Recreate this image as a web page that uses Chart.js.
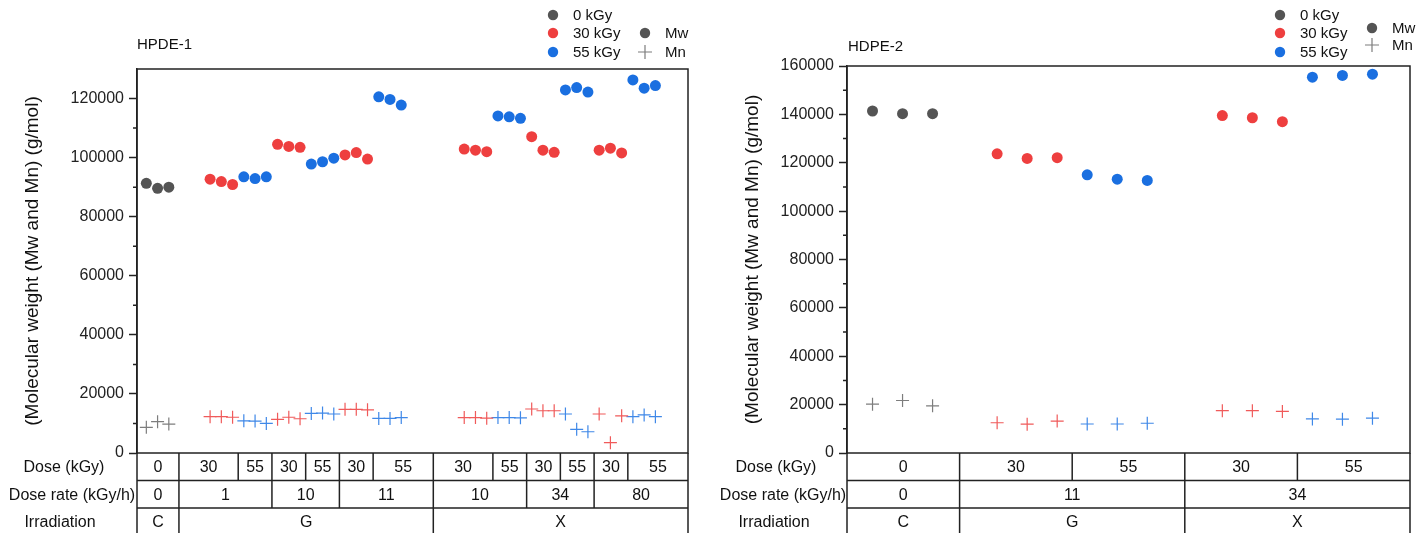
<!DOCTYPE html>
<html>
<head>
<meta charset="utf-8">
<script src="https://cdn.jsdelivr.net/npm/chart.js@4.4.1/dist/chart.umd.min.js"></script>
<style>
  html, body { margin: 0; padding: 0; background: #fff; }
  #wrap { position: relative; width: 1426px; height: 533px; overflow: hidden; }
  .panel { position: absolute; top: 0; width: 713px; height: 533px; }
</style>
</head>
<body>
<div id="wrap">
  <div class="panel" style="left:0"><canvas id="chart1" width="713" height="533"></canvas></div>
  <div class="panel" style="left:713px"><canvas id="chart2" width="713" height="533"></canvas></div>
</div>
<script>
// ---- HPDE-1 data (x = sample position along the axis) ----
const hdpe1Pos0 = [0.83, 1.83, 2.83];
const hdpe1Mw0 = [91300, 89600, 90000];
const hdpe1Mn0 = [8700, 10600, 9800];

const hdpe1Pos30 = [6.5, 7.5, 8.5, 12.5, 13.5, 14.5, 18.5, 19.5, 20.5, 29.1, 30.1, 31.1, 35.1, 36.1, 37.1, 41.1, 42.1, 43.1];
const hdpe1Mw30 = [92700, 91900, 90900, 104500, 103800, 103500, 100900, 101700, 99500, 102900, 102500, 102000, 107100, 102500, 101800, 102500, 103200, 101600];
const hdpe1Mn30 = [12300, 12300, 12100, 11400, 12100, 11600, 14800, 14800, 14600, 12000, 12000, 11800, 14900, 14300, 14300, 13200, 3500, 12600];

const hdpe1Pos55 = [9.5, 10.5, 11.5, 15.5, 16.5, 17.5, 21.5, 22.5, 23.5, 32.1, 33.1, 34.1, 38.1, 39.1, 40.1, 44.1, 45.1, 46.1];
const hdpe1Mw55 = [93500, 92900, 93500, 97800, 98600, 99800, 120600, 119700, 117800, 114100, 113800, 113300, 122900, 123700, 122200, 126300, 123500, 124400];
const hdpe1Mn55 = [10900, 10800, 10000, 13400, 13500, 13200, 11700, 11700, 12000, 12000, 12000, 11900, 13200, 8000, 7200, 12300, 12900, 12300];

const hdpe1Ticks = [0, 20000, 40000, 60000, 80000, 100000, 120000];

// table rows under HPDE-1
const hdpe1DoseCells = ['0', '30', '55', '30', '55', '30', '55', '30', '55', '30', '55', '30', '55'];
const hdpe1DoseEdges = [0, 3.73, 9, 12, 15, 18, 21, 26.35, 31.65, 34.65, 37.65, 40.65, 43.65, 49];
const hdpe1RateCells = ['0', '1', '10', '11', '10', '34', '80'];
const hdpe1RateEdges = [0, 3.73, 12, 18, 26.35, 34.65, 40.65, 49];
const hdpe1IrrCells = ['C', 'G', 'X'];
const hdpe1IrrEdges = [0, 3.73, 26.35, 49];

// ---- HDPE-2 data ----
const hdpe2Pos0 = [0.85, 1.85, 2.85];
const hdpe2Mw0 = [141400, 140300, 140300];
const hdpe2Mn0 = [20200, 21700, 19500];

const hdpe2Pos30 = [5, 6, 7, 12.5, 13.5, 14.5];
const hdpe2Mw30 = [123700, 121800, 122100, 139500, 138600, 137000];
const hdpe2Mn30 = [12500, 11900, 13200, 17500, 17500, 17200];

const hdpe2Pos55 = [8, 9, 10, 15.5, 16.5, 17.5];
const hdpe2Mw55 = [115000, 113200, 112700, 155400, 156100, 156600];
const hdpe2Mn55 = [12000, 12000, 12300, 14100, 14000, 14400];

const hdpe2Ticks = [0, 20000, 40000, 60000, 80000, 100000, 120000, 140000, 160000];

const hdpe2DoseCells = ['0', '30', '55', '30', '55'];
const hdpe2DoseEdges = [0, 3.75, 7.5, 11.25, 15, 18.75];
const hdpe2RateCells = ['0', '11', '34'];
const hdpe2RateEdges = [0, 3.75, 11.25, 18.75];
const hdpe2IrrCells = ['C', 'G', 'X'];
const hdpe2IrrEdges = [0, 3.75, 11.25, 18.75];

const rowLabels = ['Dose (kGy)', 'Dose rate (kGy/h)', 'Irradiation'];
const doseLegend = ['0 kGy', '30 kGy', '55 kGy'];
const typeLegend = ['Mw', 'Mn'];
const yTitle = '(Molecular weight (Mw and Mn) (g/mol)';

const FONT = '"Liberation Sans", Arial, Helvetica, sans-serif';
const MW_COLORS = ['#545454', '#ee3f3f', '#1a6fe0'];
const MN_COLORS = ['#7d7d7d', '#f05a5a', '#3f88e8'];
const LINE = '#222';

Chart.defaults.font.family = FONT;

function toPoints(xs, ys) {
  return xs.map((x, i) => ({ x, y: ys[i] }));
}

function mwSet(label, xs, ys, color) {
  return {
    label,
    data: toPoints(xs, ys),
    pointStyle: 'circle',
    pointRadius: 5.5,
    pointHoverRadius: 5.5,
    backgroundColor: color,
    borderColor: color,
    borderWidth: 0,
  };
}

function mnSet(label, xs, ys, color) {
  return {
    label,
    data: toPoints(xs, ys),
    pointStyle: 'cross',
    pointRadius: 6.5,
    pointHoverRadius: 6.5,
    backgroundColor: color,
    borderColor: color,
    borderWidth: 1.2,
  };
}

// Draws box, minor ticks, the table under the plot, titles and legend
const framePlugin = {
  id: 'framePlugin',
  afterDraw(chart, args, opts) {
    const { ctx, chartArea } = chart;
    const { left, right, top, bottom } = chartArea;
    const xs = chart.scales.x;
    const ys = chart.scales.y;
    ctx.save();
    ctx.strokeStyle = LINE;
    ctx.lineWidth = 1.5;

    // frame
    ctx.strokeRect(left, top, right - left, bottom - top);

    // minor ticks
    ctx.beginPath();
    for (let v = opts.minorStep; v < ys.max; v += opts.minorStep * 2) {
      const y = ys.getPixelForValue(v);
      ctx.moveTo(left - 4, y);
      ctx.lineTo(left, y);
    }
    ctx.stroke();

    // table
    const rowH = 27.5;
    ctx.fillStyle = '#111';
    ctx.font = '16px ' + FONT;
    ctx.textAlign = 'center';
    ctx.textBaseline = 'middle';
    ctx.beginPath();
    ctx.moveTo(left, bottom);
    ctx.lineTo(left, chart.height);
    ctx.moveTo(right, bottom);
    ctx.lineTo(right, chart.height);
    opts.rows.forEach((row, r) => {
      const y0 = bottom + r * rowH;
      if (r > 0) {
        ctx.moveTo(left, y0);
        ctx.lineTo(right, y0);
      }
      const yEnd = r === opts.rows.length - 1 ? chart.height : y0 + rowH;
      row.edges.forEach((e, i) => {
        if (i === 0 || i === row.edges.length - 1) return;
        const x = xs.getPixelForValue(e);
        ctx.moveTo(x, y0);
        ctx.lineTo(x, yEnd);
      });
      row.cells.forEach((txt, i) => {
        const xc = (xs.getPixelForValue(row.edges[i]) + xs.getPixelForValue(row.edges[i + 1])) / 2;
        ctx.fillText(txt, xc, y0 + rowH / 2 + 1);
      });
      ctx.fillText(rowLabels[r], opts.rowLabelX[r], y0 + rowH / 2 + 1);
    });
    ctx.stroke();

    // y title
    ctx.save();
    ctx.translate(opts.yTitleX, (top + bottom) / 2);
    ctx.rotate(-Math.PI / 2);
    ctx.font = '19px ' + FONT;
    ctx.fillText(yTitle, 0, 0);
    ctx.restore();

    // chart title
    ctx.font = '15px ' + FONT;
    ctx.textAlign = 'left';
    ctx.fillText(opts.title, opts.titleX, opts.titleY);

    // legend
    const lg = opts.legend;
    doseLegend.forEach((txt, i) => {
      const y = lg.doseY[i];
      ctx.fillStyle = MW_COLORS[i];
      ctx.beginPath();
      ctx.arc(lg.doseX, y, 5.2, 0, Math.PI * 2);
      ctx.fill();
      ctx.fillStyle = '#111';
      ctx.fillText(txt, lg.doseX + 20, y + 1);
    });
    typeLegend.forEach((txt, i) => {
      const y = lg.typeY[i];
      if (i === 0) {
        ctx.fillStyle = MW_COLORS[0];
        ctx.beginPath();
        ctx.arc(lg.typeX, y, 5.2, 0, Math.PI * 2);
        ctx.fill();
      } else {
        ctx.strokeStyle = MN_COLORS[0];
        ctx.lineWidth = 1.2;
        ctx.beginPath();
        ctx.moveTo(lg.typeX - 7, y);
        ctx.lineTo(lg.typeX + 7, y);
        ctx.moveTo(lg.typeX, y - 7);
        ctx.lineTo(lg.typeX, y + 7);
        ctx.stroke();
      }
      ctx.fillStyle = '#111';
      ctx.fillText(txt, lg.typeX + 20, y + 1);
    });
    ctx.restore();
  },
};

function makeChart(id, cfg) {
  return new Chart(document.getElementById(id), {
    type: 'scatter',
    data: {
      datasets: [
        mnSet('Mn 0', cfg.pos[0], cfg.mn[0], MN_COLORS[0]),
        mnSet('Mn 30', cfg.pos[1], cfg.mn[1], MN_COLORS[1]),
        mnSet('Mn 55', cfg.pos[2], cfg.mn[2], MN_COLORS[2]),
        mwSet('Mw 0', cfg.pos[0], cfg.mw[0], MW_COLORS[0]),
        mwSet('Mw 30', cfg.pos[1], cfg.mw[1], MW_COLORS[1]),
        mwSet('Mw 55', cfg.pos[2], cfg.mw[2], MW_COLORS[2]),
      ],
    },
    options: {
      responsive: false,
      animation: false,
      devicePixelRatio: 1,
      layout: {
        autoPadding: false,
        padding: { left: 0, right: cfg.padRight, top: cfg.padTop, bottom: 80 },
      },
      plugins: {
        legend: { display: false },
        tooltip: { enabled: false },
        framePlugin: cfg.frame,
      },
      scales: {
        x: {
          type: 'linear',
          min: 0,
          max: cfg.xMax,
          display: false,
        },
        y: {
          min: 0,
          max: cfg.yMax,
          afterBuildTicks: (scale) => {
            scale.ticks = cfg.yTicks.map((v) => ({ value: v }));
          },
          afterFit: (scale) => {
            scale.width = cfg.axisWidth;
          },
          ticks: {
            color: '#222',
            padding: 5,
            font: { size: 16 },
            callback: (value) => String(value),
          },
          grid: {
            drawOnChartArea: false,
            drawTicks: true,
            tickLength: 8,
            tickColor: LINE,
            tickWidth: 1.5,
          },
          border: { display: true, color: LINE, width: 1.5 },
        },
      },
    },
    plugins: [framePlugin],
  });
}

makeChart('chart1', {
  pos: [hdpe1Pos0, hdpe1Pos30, hdpe1Pos55],
  mw: [hdpe1Mw0, hdpe1Mw30, hdpe1Mw55],
  mn: [hdpe1Mn0, hdpe1Mn30, hdpe1Mn55],
  yTicks: hdpe1Ticks,
  xMax: 49,
  yMax: 130000,
  axisWidth: 137,
  padRight: 25,
  padTop: 69,
  frame: {
    minorStep: 10000,
    rows: [
      { cells: hdpe1DoseCells, edges: hdpe1DoseEdges },
      { cells: hdpe1RateCells, edges: hdpe1RateEdges },
      { cells: hdpe1IrrCells, edges: hdpe1IrrEdges },
    ],
    rowLabelX: [64, 72, 60],
    yTitleX: 33,
    title: 'HPDE-1',
    titleX: 137,
    titleY: 45,
    legend: { doseX: 553, doseY: [15, 33, 52], typeX: 645, typeY: [33, 52] },
  },
});

makeChart('chart2', {
  pos: [hdpe2Pos0, hdpe2Pos30, hdpe2Pos55],
  mw: [hdpe2Mw0, hdpe2Mw30, hdpe2Mw55],
  mn: [hdpe2Mn0, hdpe2Mn30, hdpe2Mn55],
  yTicks: hdpe2Ticks,
  xMax: 18.75,
  yMax: 160000,
  axisWidth: 134,
  padRight: 16,
  padTop: 66,
  frame: {
    minorStep: 10000,
    rows: [
      { cells: hdpe2DoseCells, edges: hdpe2DoseEdges },
      { cells: hdpe2RateCells, edges: hdpe2RateEdges },
      { cells: hdpe2IrrCells, edges: hdpe2IrrEdges },
    ],
    rowLabelX: [63, 70, 61],
    yTitleX: 40,
    title: 'HDPE-2',
    titleX: 135,
    titleY: 47,
    legend: { doseX: 567, doseY: [15, 33, 52], typeX: 659, typeY: [28, 45] },
  },
});
</script>
</body>
</html>
